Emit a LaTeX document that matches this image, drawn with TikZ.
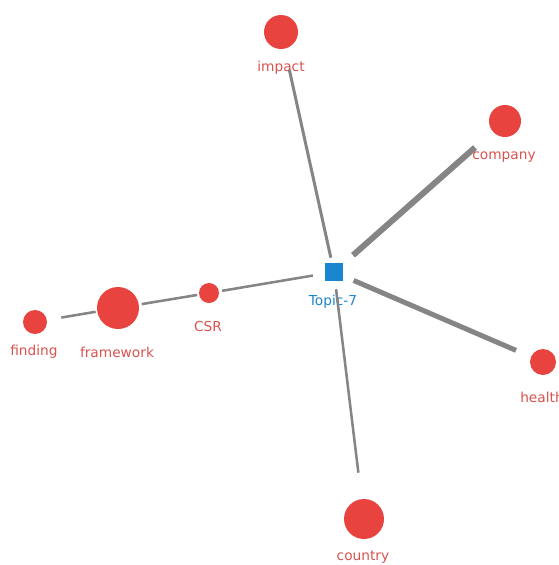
\documentclass[tikz,border=0pt]{standalone}
\usepackage{fontspec}
\setmainfont{DejaVu Sans}
\definecolor{termred}{HTML}{E8433F}
\definecolor{termtext}{HTML}{D9534F}
\definecolor{topicblue}{HTML}{1A86CF}
\definecolor{edgegray}{HTML}{858585}
\tikzset{
  term/.style={circle,fill=termred,draw=none,inner sep=0pt},
  termlabel/.style={text=termtext,font=\fontsize{10.3}{12}\selectfont,inner sep=0pt},
  topic/.style={rectangle,fill=topicblue,minimum size=13.5pt,inner sep=0pt},
  topiclabel/.style={text=topicblue,font=\fontsize{10.3}{12}\selectfont,inner sep=0pt},
  link/.style={draw=edgegray,line cap=butt}
}
\begin{document}
\begin{tikzpicture}[x=0.75pt,y=-0.75pt]
	\useasboundingbox (0,0) rectangle (558,565);
	\clip (0,0) rectangle (558,565);
	% topic node
	\node[topic] (topic) at (334,272) {};
	\node[topiclabel] (topiclbl) at (333,302) {Topic-7};
	% terms (radius in px)
	\node[term,minimum size=25.5pt] (impact) at (281,32) {};
	\node[term,minimum size=24pt] (company) at (505,121) {};
	\node[term,minimum size=19.5pt] (health) at (543,362) {};
	\node[term,minimum size=30pt] (country) at (364,519) {};
	\node[term,minimum size=15pt] (csr) at (209,293) {};
	\node[term,minimum size=31.5pt] (framework) at (118,308) {};
	\node[term,minimum size=18pt] (finding) at (35,322) {};
	\node[termlabel] (impactlbl) at (281,68) {impact};
	\node[termlabel] (companylbl) at (504,157) {company};
	\node[termlabel,anchor=west] (healthlbl) at (520,397) {health};
	\node[termlabel] (countrylbl) at (363,557) {country};
	\node[termlabel] (csrlbl) at (208,326) {CSR};
	\node[termlabel] (frameworklbl) at (117,352) {framework};
	\node[termlabel] (findinglbl) at (34,352) {finding};
	% edges, width ~ weight
	\draw[link,line width=2.25pt,shorten <=11pt,shorten >=29pt] (topic.center) -- (impact.center);
	\draw[link,line width=4.5pt,shorten <=19pt,shorten >=30pt] (topic.center) -- (company.center);
	\draw[link,line width=3.75pt,shorten <=16pt,shorten >=22pt] (topic.center) -- (health.center);
	\draw[link,line width=1.9pt,shorten <=13pt,shorten >=35pt] (topic.center) -- (country.center);
	\draw[link,line width=1.9pt,shorten <=16pt,shorten >=10pt] (topic.center) -- (csr.center);
	\draw[link,line width=1.9pt,shorten <=9pt,shorten >=18pt] (csr.center) -- (framework.center);
	\draw[link,line width=1.9pt,shorten <=17pt,shorten >=20pt] (framework.center) -- (finding.center);
\end{tikzpicture}
\end{document}
